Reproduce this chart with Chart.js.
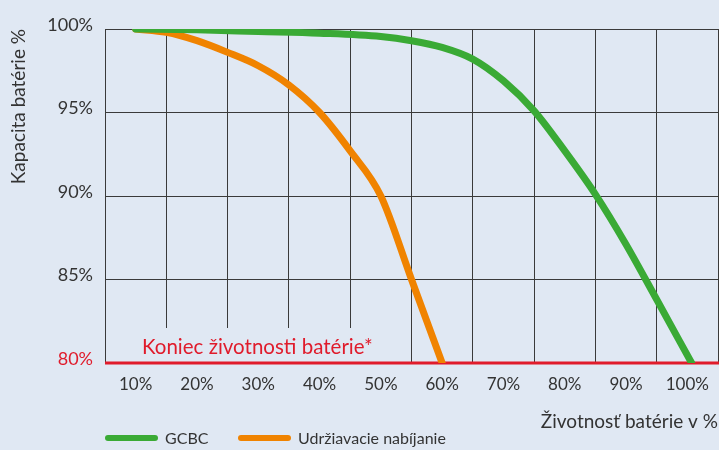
<!DOCTYPE html>
<html lang="sk">
<head>
<meta charset="utf-8">
<script src="https://cdn.jsdelivr.net/npm/chart.js@4/dist/chart.umd.min.js"></script>
<style>
    html, body { margin: 0; padding: 0; background: #e0e8f3; }
    #wrap   { position: relative; width: 719px; height: 450px; }
    #legend { position: absolute; left: 105px; top: 428px; display: flex;
              font: 16px Lato, 'Open Sans', sans-serif; color: #333; }
    .item   { display: flex; align-items: center; flex: none; }
    .item:first-child { width: 133px; }
    .swatch { display: inline-block; flex: none; width: 53px; height: 6px; border-radius: 3px; margin-right: 7px; }
</style>
</head>
<body>
<div id="wrap">
    <canvas id="graf" width="719" height="450"></canvas>
    <div id="legend"></div>
</div>
<script>
// Hodnoty odčítané z obrázka (x = životnosť %, y = kapacita %)
const gcbcX  = [10, 20, 30, 40, 50, 55, 60, 65, 70, 75, 80, 85, 90, 95, 100.7];
const gcbcY  = [100, 99.95, 99.85, 99.75, 99.55, 99.3, 98.9, 98.2, 96.9, 95.1, 92.7, 90.1, 87.1, 83.8, 80];
const udrzX  = [10, 15, 20, 25, 30, 35, 40, 45, 50, 55, 60];
const udrzY  = [100, 99.8, 99.3, 98.6, 97.8, 96.65, 95.0, 92.7, 90, 85, 80];

const seriesNames  = ['GCBC', 'Udržiavacie nabíjanie'];
const seriesColors = ['#3aaa35', '#f08300'];

const xTickValues = [10, 20, 30, 40, 50, 60, 70, 80, 90, 100];
const yTickValues = [80, 85, 90, 95, 100];
const endOfLife   = 80;
const endLabel    = 'Koniec životnosti batérie*';

const RED  = '#e01b2b';
const TEXT = '#333333';
const GRID = '#3a3a3a';
const BG   = '#e0e8f3';
const FONT = "Lato, 'Open Sans', sans-serif";

function points(xs, ys) {
    return xs.map((x, i) => ({ x: x, y: ys[i] }));
}

/**
 * Pozadie za textom "Koniec životnosti" + červená čiara na 80 %.
 */
const endOfLifePlugin = {
    id: 'endOfLife',
    beforeDatasetsDraw(chart) {
        const { ctx, chartArea, scales } = chart;
        const y = scales.y.getPixelForValue(endOfLife);
        ctx.save();
        ctx.fillStyle = BG;
        ctx.fillRect(chartArea.left + 1, y - 35, scales.x.getPixelForValue(55) - chartArea.left - 3, 34);
        ctx.fillStyle    = RED;
        ctx.font         = '20.5px ' + FONT;
        ctx.textBaseline = 'middle';
        ctx.fillText(endLabel, chartArea.left + 37, y - 16);
        ctx.strokeStyle = RED;
        ctx.lineWidth   = 3;
        ctx.beginPath();
        ctx.moveTo(chartArea.left, y);
        ctx.lineTo(chartArea.right + 1, y);
        ctx.stroke();
        ctx.restore();
    }
};

const chart = new Chart(document.getElementById('graf').getContext('2d'), {
    type: 'line',
    data: {
        datasets: [
            {
                label: seriesNames[0],
                data:  points(gcbcX, gcbcY),
                borderColor: seriesColors[0],
            },
            {
                label: seriesNames[1],
                data:  points(udrzX, udrzY),
                borderColor: seriesColors[1],
            }
        ].map(d => Object.assign(d, {
            borderWidth: 7,
            borderCapStyle: 'round',
            borderJoinStyle: 'round',
            pointRadius: 0,
            cubicInterpolationMode: 'monotone',
            fill: false,
        }))
    },
    options: {
        responsive: false,
        animation:  false,
        layout: { padding: { top: 29, right: 1, left: 0, bottom: 0 } },
        scales: {
            x: {
                type: 'linear',
                min: 5, max: 105,
                afterFit: s => { s.height = 87; s.paddingLeft = 0; s.paddingRight = 0; },
                border: { display: false },
                grid: {
                    drawTicks: false,
                    lineWidth: 1,
                    color: c => (c.tick && c.tick.value % 10 === 5) ? GRID : 'rgba(0,0,0,0)',
                },
                ticks: {
                    stepSize: 5,
                    autoSkip: false,
                    maxRotation: 0,
                    padding: 11,
                    color: TEXT,
                    font: { family: FONT, size: 17 },
                    callback: v => xTickValues.includes(v) ? v + '%' : '',
                },
                title: {
                    display: true,
                    text: 'Životnosť batérie v %',
                    align: 'end',
                    color: TEXT,
                    font: { family: FONT, size: 19 },
                    padding: { top: 0, bottom: 17 },
                }
            },
            y: {
                min: 80, max: 100,
                afterFit: s => { s.width = 105; },
                afterBuildTicks: s => { s.ticks = yTickValues.map(v => ({ value: v })); },
                border: { display: false },
                grid: {
                    drawTicks: false,
                    lineWidth: 1,
                    color: c => (c.tick && c.tick.value === endOfLife) ? 'rgba(0,0,0,0)' : GRID,
                },
                ticks: {
                    padding: 12,
                    labelOffset: -4,
                    color: c => c.tick.value === endOfLife ? RED : TEXT,
                    font: { family: FONT, size: 18 },
                    callback: v => v + '%',
                },
                title: {
                    display: true,
                    text: 'Kapacita batérie %',
                    align: 'end',
                    color: TEXT,
                    font: { family: FONT, size: 19 },
                    padding: { top: 7, bottom: 0 },
                }
            }
        },
        plugins: {
            legend:  { display: false },
            tooltip: { enabled: false },
        }
    },
    plugins: [endOfLifePlugin]
});

// Legenda v HTML (zarovnaná k ľavému okraju grafu)
const legend = document.getElementById('legend');
chart.data.datasets.forEach(d => {
    const item = document.createElement('div');
    item.className = 'item';
    item.innerHTML = '<span class="swatch" style="background:' + d.borderColor + '"></span>' + d.label;
    legend.appendChild(item);
});
</script>
</body>
</html>
